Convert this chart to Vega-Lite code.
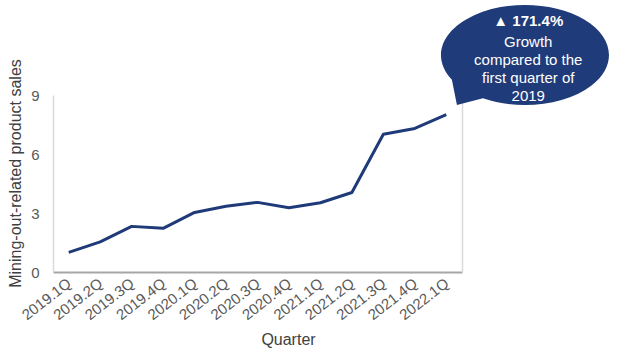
{
  "$schema": "https://vega.github.io/schema/vega-lite/v6.json",
  "width": 409,
  "height": 177,
  "autosize": "none",
  "padding": {"left": 53, "top": 95, "right": 157, "bottom": 76},
  "background": "white",
  "config": {
    "view": {"stroke": null},
    "font": "Liberation Sans",
    "axis": {
      "labelFont": "Liberation Sans",
      "titleFont": "Liberation Sans",
      "labelFontSize": 15,
      "titleFontSize": 16,
      "titleFontWeight": "normal",
      "labelColor": "#595959",
      "titleColor": "#404040",
      "grid": false,
      "ticks": false
    }
  },
  "encoding": {
    "x": {
      "field": "Quarter",
      "type": "ordinal",
      "sort": null,
      "scale": {"type": "point", "padding": 0.5},
      "axis": {
        "title": "Quarter",
        "labelAngle": -38,
        "labelAlign": "right",
        "labelBaseline": "middle",
        "labelPadding": 9,
        "titlePadding": 9,
        "titleX": 235,
        "domainColor": "#a6a6a6",
        "domainWidth": 2
      }
    }
  },
  "layer": [
    {
      "data": {
        "values": [
          {"Quarter": "2019.1Q", "Sales": 1.0},
          {"Quarter": "2019.2Q", "Sales": 1.53},
          {"Quarter": "2019.3Q", "Sales": 2.32},
          {"Quarter": "2019.4Q", "Sales": 2.22},
          {"Quarter": "2020.1Q", "Sales": 3.03},
          {"Quarter": "2020.2Q", "Sales": 3.34},
          {"Quarter": "2020.3Q", "Sales": 3.54},
          {"Quarter": "2020.4Q", "Sales": 3.27},
          {"Quarter": "2021.1Q", "Sales": 3.52},
          {"Quarter": "2021.2Q", "Sales": 4.04},
          {"Quarter": "2021.3Q", "Sales": 7.0},
          {"Quarter": "2021.4Q", "Sales": 7.3},
          {"Quarter": "2022.1Q", "Sales": 8.0}
        ]
      },
      "mark": {"type": "line", "color": "#1f3a78", "strokeWidth": 3, "strokeJoin": "round"},
      "encoding": {
        "y": {
          "field": "Sales",
          "type": "quantitative",
          "scale": {"domain": [0, 9], "nice": false},
          "axis": {
            "title": "Mining-out-related product sales",
            "values": [0, 3, 6, 9],
            "labelPadding": 14,
            "titlePadding": 7,
            "titleY": 78,
            "domainColor": "#d9d9d9",
            "domainWidth": 1.5
          }
        }
      }
    },
    {
      "data": {"values": [{"Quarter": "2022.1Q", "y": 8.5}]},
      "mark": {
        "type": "point",
        "filled": true,
        "opacity": 1,
        "color": "#1f3b7a",
        "strokeWidth": 0,
        "size": 28224,
        "shape": "M 0.067 -0.2995 A 1 0.5952 0 1 1 0.437 -0.0775 L 0.127 0.002 Z"
      },
      "encoding": {
        "y": {
          "field": "y",
          "type": "quantitative",
          "scale": {"domain": [0, 9], "nice": false},
          "axis": {
            "orient": "right",
            "labels": false,
            "title": null,
            "values": [],
            "domainColor": "#d9d9d9",
            "domainWidth": 1.5
          }
        }
      }
    },
    {
      "data": {"values": [{"Quarter": "2022.1Q", "y": 12.76, "label": "▲ 171.4%"}]},
      "mark": {"type": "text", "color": "white", "fontSize": 15, "fontWeight": "bold", "align": "center", "baseline": "middle", "dx": 82},
      "encoding": {
        "y": {"field": "y", "type": "quantitative", "scale": {"domain": [0, 9], "nice": false}, "axis": null},
        "text": {"field": "label"}
      }
    },
    {
      "data": {
        "values": [
          {"Quarter": "2022.1Q", "y": 11.69, "label": "Growth"},
          {"Quarter": "2022.1Q", "y": 10.78, "label": "compared to the"},
          {"Quarter": "2022.1Q", "y": 9.86, "label": "first quarter of"},
          {"Quarter": "2022.1Q", "y": 8.95, "label": "2019"}
        ]
      },
      "mark": {"type": "text", "color": "white", "fontSize": 15, "align": "center", "baseline": "middle", "dx": 82},
      "encoding": {
        "y": {"field": "y", "type": "quantitative", "scale": {"domain": [0, 9], "nice": false}, "axis": null},
        "text": {"field": "label"}
      }
    }
  ],
  "resolve": {"axis": {"y": "independent"}}
}
